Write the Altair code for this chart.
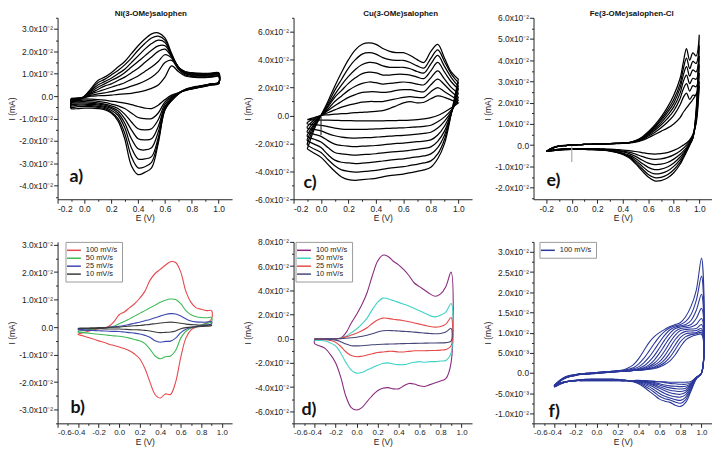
import altair as alt
import pandas as pd

# ---------------- Panel a : Ni(3-OMe)salophen, successive cycles (I in 1e-3 mA) ----------------
E_A = [-0.1, -0.05, 0.0, 0.05, 0.1, 0.15, 0.2, 0.25, 0.3, 0.35, 0.4, 0.45, 0.5, 0.55, 0.6, 0.65, 0.7, 0.75, 0.8, 0.85, 0.9, 0.95, 1.0]
A_FWD = [
    [-1, -0.8, -0.5, 0, 0.2, 0.3, 0.5, 0.8, 1, 1.3, 1.8, 2.5, 3.5, 5, 8.5, 13.5, 11, 9, 8.5, 8.3, 8.3, 8.5, 8.8],
    [-1.3, -1, -0.5, 0.5, 1, 1.5, 2, 2.8, 3.5, 4.5, 5.5, 6.8, 8.5, 11, 15, 16, 12, 9.5, 8.8, 8.6, 8.6, 8.8, 9],
    [-1.6, -1.2, -0.4, 1, 2, 3, 4, 5, 6, 7.5, 9, 11, 13, 15.5, 18.5, 17, 12.5, 10, 9.2, 9, 9, 9.2, 9.4],
    [-1.9, -1.4, -0.3, 1.5, 3, 4.5, 5.5, 7, 8.5, 10.5, 12.5, 15, 17.5, 20, 21, 17.5, 13, 10.3, 9.5, 9.3, 9.3, 9.5, 9.7],
    [-2.2, -1.6, -0.2, 2, 4, 5.5, 7, 8.5, 10.5, 13, 15.5, 18, 20.5, 22.5, 22.5, 18, 13, 10.5, 9.8, 9.6, 9.6, 9.8, 10],
    [-2.5, -1.8, -0.1, 2.5, 5, 6.5, 8, 10, 12, 15, 18, 21, 23.5, 25, 24, 18, 13, 10.7, 10, 9.8, 9.8, 10, 10.2],
    [-2.8, -1.9, 0, 3, 6, 7.5, 9.5, 11.5, 14, 17, 20.5, 23.5, 26, 26.8, 25, 18.5, 13, 10.9, 10.3, 10, 10, 10.2, 10.4],
    [-3, -2, 0, 3.5, 7, 8.5, 10.5, 13, 15.5, 19, 22.5, 25.5, 27.8, 28.3, 26, 19, 13, 11, 10.5, 10.3, 10.2, 10.3, 10.5],
]
A_REV = [
    [-1.5, -1.5, -1.2, -1.3, -1.5, -1.8, -2.2, -2.6, -3.1, -3.8, -4.6, -5.3, -5.5, -4, -1.5, 0.5, 1.5, 2.5, 3.2, 3.8, 4.4, 5, 5.5],
    [-2, -2, -1.8, -2, -2.3, -2.8, -3.5, -4.3, -5.5, -7.5, -9.5, -10, -10, -7.5, -2.5, 0, 1.5, 2.6, 3.3, 3.9, 4.5, 5.1, 5.6],
    [-2.5, -2.5, -2.4, -2.6, -3, -3.5, -4.3, -5.5, -8, -11.5, -14.5, -15, -14.5, -10.5, -3.5, -0.5, 1.4, 2.7, 3.4, 4, 4.6, 5.2, 5.7],
    [-3, -3, -3, -3.2, -3.5, -4, -5, -6.5, -10, -15, -19, -19.5, -19, -13.5, -4.5, -1, 1.3, 2.8, 3.5, 4.1, 4.7, 5.3, 5.8],
    [-3.6, -3.5, -3.5, -3.7, -4, -4.5, -5.5, -7.5, -12, -19, -23.5, -24, -23, -16, -5, -1.3, 1.2, 2.9, 3.6, 4.2, 4.8, 5.4, 5.9],
    [-4.2, -4, -4, -4.2, -4.5, -5, -6.3, -8.5, -14, -23, -28, -28, -27, -18.5, -5.5, -1.6, 1.1, 2.9, 3.7, 4.3, 4.9, 5.5, 6],
    [-4.8, -4.7, -4.6, -4.7, -5, -5.5, -7, -10, -16.5, -27, -32, -31.5, -29.5, -20, -6, -1.8, 1, 3, 3.8, 4.4, 5, 5.6, 6],
    [-5.5, -5.5, -5.3, -5.3, -5.5, -6, -7.5, -11, -19, -31, -35, -34, -32, -21, -6, -2, 1, 3, 4, 4.5, 5, 5.5, 6],
]

# ---------------- Panel c : Cu(3-OMe)salophen, successive cycles ----------------
E_C = [-0.1, -0.05, 0.0, 0.05, 0.1, 0.15, 0.2, 0.25, 0.3, 0.35, 0.4, 0.45, 0.5, 0.55, 0.6, 0.65, 0.7, 0.75, 0.8, 0.85, 0.9, 0.95, 1.0]
C_FWD = [
    [-3, -1.5, 0, 0.5, 1, 1.3, 1.6, 2, 2.3, 2.6, 3, 3.5, 5, 7, 9, 10, 9, 9.5, 12, 14, 13, 11, 9],
    [-5, -2, 0, 2, 4, 6, 7.5, 8.5, 9.5, 10, 10, 10, 11, 12, 13, 13.5, 13, 13, 17, 20, 17, 14, 11],
    [-8, -3, 0, 3.5, 7, 10, 13, 15, 16.5, 17, 17, 16.5, 17, 18, 18.5, 18.5, 17.5, 17, 22, 26, 22, 17, 13],
    [-11, -4.5, 0, 4.5, 10, 14, 18, 21, 23, 24, 23.5, 22.5, 23, 23.5, 24, 23.5, 22.5, 22, 27, 32, 26, 20, 16],
    [-14, -6, 0, 6, 13, 18, 23, 27, 30, 31, 30.5, 29, 29, 29.5, 29.5, 29, 27.5, 26.5, 32, 38, 31, 24, 19],
    [-17, -7, 0, 7, 15, 22, 28, 33, 36.5, 38, 37.5, 35.5, 34.5, 34.5, 34.5, 33.5, 31.5, 30.5, 37, 43, 35, 27, 21],
    [-20, -8.5, 0, 8.5, 18, 26, 34, 40, 44, 45, 44, 41.5, 40, 39.5, 39.5, 38, 35.5, 34, 41, 47, 38.5, 29.5, 23.5],
    [-24, -10, 0, 10, 21, 31, 40, 47, 51, 52, 51, 48, 46, 45, 45, 43, 40, 38, 46, 51, 41, 31, 26],
]
C_REV = [
    [-3, -3.2, -3.3, -3.4, -3.5, -3.6, -3.7, -3.8, -3.8, -3.8, -3.8, -3.8, -3.7, -3.6, -3.5, -3.3, -3, -2.5, -1.5, 0, 2.5, 5.5, 9],
    [-6, -6.5, -7, -8, -9, -9.7, -10, -10, -10, -9.8, -9.6, -9.4, -9.2, -9, -8.8, -8.5, -8.2, -7.8, -7, -4.5, -1, 4, 11],
    [-9, -10, -11, -13, -14.5, -15.5, -16, -16.2, -16, -15.8, -15.5, -15.2, -14.8, -14.5, -14.2, -13.8, -13.3, -12.8, -12, -9, -4, 3, 13],
    [-12, -13.5, -15, -18, -20.5, -21.5, -22, -22.3, -22, -21.8, -21.5, -21, -20.5, -20, -19.8, -19.3, -18.8, -18.3, -17.5, -14, -7.5, 2.5, 16],
    [-15, -17, -19, -23, -26.5, -27.5, -28, -28.4, -28, -27.8, -27.4, -26.8, -26.2, -25.8, -25.5, -24.9, -24.3, -23.6, -22.5, -18.5, -11, 2, 19],
    [-18, -20.5, -23, -28, -32, -33.5, -34, -34.5, -34.2, -33.8, -33.3, -32.6, -32, -31.5, -31, -30.3, -29.6, -29, -27.5, -23, -14, 2, 21],
    [-21, -24, -26.5, -31.5, -36, -39, -40, -40.5, -40.2, -39.8, -39.3, -38.5, -37.7, -37.2, -36.7, -35.8, -35, -34, -32.5, -27.5, -17, 2, 23.5],
    [-24, -27, -30, -35, -40, -44, -46, -46.5, -46, -45.5, -45, -44, -43, -42.5, -42, -41, -40, -39, -37, -31, -20, 2, 26],
]
C_SPIKE_E = [0.0, 0.0]
C_SPIKE_I = [-1.0, -14.0]

# ---------------- Panel e : Fe(3-OMe)salophen-Cl, successive cycles ----------------
E_E = [-0.2, -0.15, -0.1, -0.05, 0.0, 0.05, 0.1, 0.15, 0.2, 0.25, 0.3, 0.35, 0.4, 0.45,
       0.5, 0.55, 0.6, 0.65, 0.7, 0.75, 0.8, 0.85, 0.875, 0.9, 0.925, 0.95, 0.975, 1.0]
E_FWD = [
    [-3, -1.2, -0.4, -0.1, 0.1, 0.2, 0.3, 0.4, 0.5, 0.5, 0.6, 0.7, 0.8, 1.0, 1.4, 2.2, 3.5, 5, 6.5, 8, 10, 13, 15.5, 17.5, 19.5, 21.5, 24, 28],
    [-3, -1.3, -0.5, -0.1, 0.1, 0.2, 0.3, 0.4, 0.5, 0.6, 0.7, 0.8, 0.9, 1.1, 1.6, 2.6, 4.2, 6, 8.2, 10.8, 14, 19, 22.5, 24.5, 21.5, 23.5, 23.5, 30],
    [-3, -1.4, -0.5, -0.2, 0.1, 0.2, 0.3, 0.4, 0.5, 0.6, 0.7, 0.8, 0.9, 1.2, 1.7, 2.9, 4.7, 6.9, 9.5, 12.5, 16.2, 22, 26.5, 29, 25.5, 28, 27.5, 34],
    [-3, -1.4, -0.5, -0.2, 0.1, 0.2, 0.3, 0.4, 0.5, 0.6, 0.7, 0.8, 0.9, 1.2, 1.8, 3.1, 5.1, 7.6, 10.5, 14, 18, 24.5, 30, 33, 29, 31.5, 31, 38],
    [-3, -1.4, -0.5, -0.2, 0.1, 0.2, 0.3, 0.4, 0.5, 0.6, 0.7, 0.8, 0.9, 1.2, 1.9, 3.3, 5.5, 8.2, 11.5, 15.3, 19.8, 27, 33, 37, 32.5, 35.5, 34.5, 42],
    [-3, -1.4, -0.5, -0.2, 0.1, 0.2, 0.3, 0.4, 0.5, 0.6, 0.7, 0.8, 0.9, 1.2, 2, 3.5, 5.9, 8.8, 12.3, 16.5, 21.5, 29, 36, 41, 36, 39.5, 38.5, 47],
    [-3, -1.4, -0.5, -0.2, 0.1, 0.2, 0.3, 0.4, 0.5, 0.6, 0.7, 0.8, 0.9, 1.2, 2.1, 3.7, 6.3, 9.4, 13.2, 17.8, 23.5, 31.5, 39, 45.5, 40, 43.5, 42, 52],
]
E_REV = [
    [-3, -2.3, -1.9, -1.7, -1.6, -1.6, -1.6, -1.6, -1.7, -1.8, -1.9, -2.1, -2.3, -2.6, -3, -3.5, -4, -4.2, -4, -3.5, -2.5, -1, 0, 1, 2.5, 5, 10, 28],
    [-3, -2.4, -2, -1.8, -1.7, -1.7, -1.7, -1.7, -1.8, -1.9, -2.1, -2.4, -2.8, -3.3, -4.2, -5.3, -6.2, -6.7, -6.5, -5.8, -4.6, -2.8, -1.5, 0, 1.8, 4.5, 11, 30],
    [-3, -2.5, -2.1, -1.9, -1.8, -1.8, -1.8, -1.8, -1.9, -2, -2.3, -2.7, -3.2, -4, -5.3, -7, -8.5, -9.2, -9, -8.2, -6.6, -4.3, -2.8, -1, 1.2, 4, 12, 34],
    [-3, -2.5, -2.1, -1.9, -1.9, -1.9, -1.9, -1.9, -2, -2.2, -2.5, -3, -3.7, -4.7, -6.3, -8.5, -10.5, -11.5, -11.3, -10.3, -8.4, -5.6, -3.8, -1.8, 0.8, 3.8, 13, 38],
    [-3, -2.6, -2.2, -2, -2, -2, -2, -2, -2.1, -2.3, -2.6, -3.2, -4, -5.2, -7.2, -9.8, -12.3, -13.5, -13.3, -12.2, -10, -6.8, -4.6, -2.3, 0.5, 3.6, 14, 42],
    [-3, -2.6, -2.2, -2.1, -2, -2, -2, -2.1, -2.2, -2.4, -2.7, -3.3, -4.2, -5.6, -8, -11, -13.8, -15.3, -15.2, -14, -11.6, -8, -5.5, -2.8, 0.2, 3.4, 15, 47],
    [-3, -2.6, -2.3, -2.1, -2, -2, -2, -2.1, -2.2, -2.4, -2.8, -3.4, -4.4, -6, -8.7, -12, -15, -16.8, -16.7, -15.5, -13, -9, -6.2, -3.2, 0, 3.2, 16, 52],
]
E_SPIKE_E = [0.0, 0.0]
E_SPIKE_I = [-0.5, -8.0]

# ---------------- Panel f : Fe complex, 100 mV/s successive cycles ----------------
E_F = [-0.4, -0.35, -0.3, -0.25, -0.2, -0.15, -0.1, -0.05, 0.0, 0.05, 0.1, 0.15, 0.2, 0.25,
       0.3, 0.35, 0.4, 0.45, 0.5, 0.55, 0.6, 0.65, 0.7, 0.75, 0.8, 0.85, 0.9, 0.95, 1.0]
F_FWD = [
    [-3, -1.8, -1, -0.6, -0.4, -0.2, -0.1, 0, 0.1, 0.2, 0.3, 0.4, 0.5, 0.7, 1.2, 2, 3.5, 5.5, 7.5, 9, 10, 10.8, 11.5, 12, 12.5, 14, 16.5, 20.5, 28.5],
    [-3, -1.9, -1.1, -0.7, -0.4, -0.2, -0.1, 0, 0.1, 0.2, 0.3, 0.4, 0.5, 0.6, 0.9, 1.3, 2.2, 3.6, 5.4, 7.3, 9, 10.3, 11.2, 11.7, 12, 12.8, 14.5, 18, 24],
    [-3.1, -1.9, -1.1, -0.7, -0.5, -0.3, -0.1, 0, 0.1, 0.2, 0.3, 0.4, 0.5, 0.6, 0.7, 1, 1.5, 2.5, 3.9, 5.7, 7.6, 9.4, 10.7, 11.4, 11.7, 12, 13, 15.5, 19.5],
    [-3.1, -2, -1.2, -0.8, -0.5, -0.3, -0.2, -0.1, 0, 0.1, 0.2, 0.3, 0.4, 0.5, 0.6, 0.8, 1.1, 1.7, 2.8, 4.3, 6.2, 8.2, 9.9, 11, 11.4, 11.6, 12, 13.5, 16],
    [-3.2, -2, -1.2, -0.8, -0.5, -0.3, -0.2, -0.1, 0, 0.1, 0.2, 0.3, 0.4, 0.5, 0.5, 0.7, 0.9, 1.3, 2, 3.2, 4.9, 6.9, 8.8, 10.3, 11, 11.2, 11.4, 12, 13.5],
    [-3.2, -2, -1.2, -0.8, -0.5, -0.3, -0.2, -0.1, 0, 0.1, 0.2, 0.3, 0.4, 0.5, 0.5, 0.6, 0.8, 1.1, 1.6, 2.4, 3.7, 5.5, 7.6, 9.4, 10.5, 10.8, 10.9, 11, 12],
    [-3.2, -2, -1.2, -0.8, -0.5, -0.3, -0.2, -0.1, 0, 0.1, 0.2, 0.3, 0.4, 0.5, 0.5, 0.6, 0.7, 0.9, 1.3, 1.9, 2.8, 4.3, 6.3, 8.3, 9.7, 10.3, 10.4, 10.5, 11],
    [-3.3, -2.1, -1.3, -0.9, -0.6, -0.4, -0.3, -0.2, -0.1, 0, 0.1, 0.2, 0.3, 0.4, 0.5, 0.6, 0.7, 0.8, 1.1, 1.5, 2.2, 3.3, 5, 7, 8.8, 9.7, 9.9, 10, 10.5],
    [-3.3, -2.1, -1.3, -0.9, -0.6, -0.4, -0.3, -0.2, -0.1, 0, 0.1, 0.2, 0.3, 0.4, 0.5, 0.6, 0.7, 0.8, 1, 1.3, 1.8, 2.6, 3.9, 5.8, 7.8, 9, 9.5, 9.7, 10],
    [-3.3, -2.1, -1.3, -0.9, -0.6, -0.4, -0.3, -0.2, -0.1, 0, 0.1, 0.2, 0.3, 0.4, 0.5, 0.6, 0.7, 0.8, 0.9, 1.1, 1.5, 2.1, 3, 4.5, 6.5, 8.2, 9, 9.4, 9.6],
]
F_REV = [
    [-3.5, -2.8, -2.3, -2, -1.8, -1.7, -1.6, -1.5, -1.5, -1.5, -1.5, -1.5, -1.6, -1.7, -1.9, -2.2, -2.7, -3.5, -4.5, -5.5, -6.5, -7, -7.3, -8, -8.3, -7.3, -4.5, -1.5, 0],
    [-3.4, -2.8, -2.3, -2, -1.8, -1.7, -1.6, -1.6, -1.6, -1.6, -1.6, -1.6, -1.7, -1.8, -1.9, -2.1, -2.5, -3.1, -3.9, -4.8, -5.8, -6.4, -6.7, -7.2, -7.5, -6.6, -4.1, -1.4, 0],
    [-3.4, -2.7, -2.3, -2, -1.9, -1.8, -1.7, -1.7, -1.7, -1.7, -1.7, -1.7, -1.7, -1.8, -1.9, -2.1, -2.3, -2.8, -3.4, -4.2, -5.1, -5.8, -6.2, -6.6, -6.8, -6, -3.8, -1.4, 0],
    [-3.3, -2.7, -2.3, -2, -1.9, -1.8, -1.7, -1.7, -1.7, -1.7, -1.7, -1.7, -1.8, -1.8, -1.9, -2, -2.2, -2.5, -3, -3.6, -4.4, -5.1, -5.6, -5.9, -6, -5.4, -3.5, -1.3, 0],
    [-3.3, -2.7, -2.3, -2, -1.9, -1.8, -1.7, -1.7, -1.7, -1.7, -1.7, -1.7, -1.8, -1.8, -1.9, -2, -2.1, -2.3, -2.7, -3.2, -3.8, -4.4, -4.9, -5.2, -5.3, -4.8, -3.2, -1.3, 0],
    [-3.2, -2.6, -2.2, -2, -1.9, -1.8, -1.8, -1.8, -1.8, -1.8, -1.8, -1.8, -1.8, -1.9, -1.9, -2, -2, -2.2, -2.5, -2.9, -3.4, -3.9, -4.3, -4.5, -4.6, -4.3, -3, -1.2, 0],
    [-3.2, -2.6, -2.2, -2, -1.9, -1.8, -1.8, -1.8, -1.8, -1.8, -1.8, -1.8, -1.8, -1.9, -1.9, -2, -2, -2.1, -2.3, -2.6, -3, -3.4, -3.7, -3.9, -4, -3.8, -2.8, -1.2, 0],
    [-3.1, -2.6, -2.2, -2, -1.9, -1.9, -1.8, -1.8, -1.8, -1.8, -1.8, -1.8, -1.8, -1.9, -1.9, -1.9, -1.9, -2, -2.2, -2.4, -2.7, -3, -3.2, -3.3, -3.4, -3.3, -2.6, -1.1, 0],
    [-3.1, -2.5, -2.2, -2, -1.9, -1.9, -1.9, -1.9, -1.9, -1.9, -1.9, -1.9, -1.9, -1.9, -1.9, -1.9, -1.9, -1.9, -2, -2.1, -2.2, -2.4, -2.6, -2.7, -2.8, -2.8, -2.4, -1.1, 0],
    [-3, -2.5, -2.2, -2, -1.9, -1.9, -1.9, -1.9, -1.9, -1.9, -1.9, -1.9, -1.9, -1.9, -1.9, -1.9, -1.8, -1.9, -2, -2.1, -2.2, -2.2, -2.3, -2.3, -2.3, -2.3, -2.1, -1.1, 0],
]

# ---------------- Panels b and d : scan-rate series ----------------
E_BD = [-0.4, -0.35, -0.3, -0.25, -0.2, -0.15, -0.1, -0.05, 0.0, 0.05, 0.1, 0.15, 0.2, 0.25,
        0.3, 0.35, 0.4, 0.45, 0.5, 0.55, 0.6, 0.65, 0.7, 0.75, 0.8, 0.85, 0.9]
RATES = ["100 mV/s", "50 mV/s", "25 mV/s", "10 mV/s"]

B_FWD = [
    [-2.5, -2, -1.5, -1, -0.6, -0.3, 0.3, 2, 4.5, 5.5, 7, 8.5, 10.5, 13, 17, 19.5, 21, 22.5, 23.8, 23.5, 20, 13, 9, 7, 6.5, 6, 6],
    [-1.5, -1.3, -1, -0.7, -0.5, -0.3, -0.1, 0.3, 1.2, 2, 3, 4, 5, 6, 7, 8, 9, 9.8, 10.2, 10, 8.5, 6, 4.5, 3.8, 3.5, 3.4, 3.5],
    [-0.8, -0.7, -0.6, -0.5, -0.4, -0.3, -0.1, 0.1, 0.3, 0.6, 1, 1.4, 1.8, 2.3, 2.8, 3.4, 4, 4.6, 4.9, 4.8, 4, 3, 2.2, 1.9, 1.8, 1.8, 2],
    [-0.4, -0.35, -0.3, -0.25, -0.2, -0.15, -0.1, -0.05, 0, 0.2, 0.35, 0.5, 0.6, 0.8, 1, 1.25, 1.5, 1.7, 1.8, 1.7, 1.4, 1.1, 0.9, 0.8, 0.7, 0.7, 0.8],
]
B_REV = [
    [-2.7, -3.2, -3.8, -4.3, -5, -5.5, -6.2, -6.7, -7.2, -7.8, -8.6, -9.8, -11.5, -15, -20, -24.5, -25.8, -24.3, -24.5, -20, -11, -4, -1, 0, 0.8, 1.5, 3],
    [-1.8, -2, -2.2, -2.4, -2.6, -2.8, -3, -3.2, -3.3, -3.6, -4, -4.5, -5, -6, -8, -10.5, -11.5, -10.8, -10.5, -8.5, -4, -1.5, -0.3, 0.3, 0.8, 1.3, 2],
    [-1, -1.1, -1.2, -1.25, -1.3, -1.4, -1.5, -1.55, -1.6, -1.8, -2, -2.2, -2.5, -3, -3.7, -5, -5.5, -5.2, -5.1, -4, -2, -0.8, -0.2, 0.2, 0.5, 0.8, 1.2],
    [-0.5, -0.52, -0.55, -0.58, -0.6, -0.63, -0.66, -0.68, -0.7, -0.8, -0.9, -0.95, -1, -1.2, -1.4, -1.8, -2, -1.9, -1.8, -1.4, -0.6, -0.2, 0, 0.1, 0.2, 0.3, 0.5],
]
B_COLORS = ["#e5484d", "#3fba55", "#3e47ad", "#3a3a3a"]

D_FWD = [
    [-0.5, -0.4, -0.3, -0.25, -0.2, 0.5, 5, 13, 20, 28, 38, 52, 64, 69, 68, 64, 61, 57, 52, 46, 43, 40, 37, 35, 37, 43, 55],
    [-0.3, -0.25, -0.2, -0.15, -0.1, 0.3, 2, 5, 8, 12, 17, 24, 30, 33.5, 33, 31.5, 30, 28.5, 27, 25, 23, 21, 19, 18, 19.5, 22, 29],
    [-0.2, -0.15, -0.1, -0.05, 0, 0.3, 1.5, 3, 4.5, 6.5, 9, 12.5, 15.5, 17, 16.8, 16, 15.5, 14.8, 14, 13, 12, 11, 10, 9.5, 10, 12, 17.5],
    [-0.2, -0.18, -0.15, -0.12, -0.1, 0, 0.3, 0.7, 1.2, 2, 2.8, 4, 5.5, 6.5, 6.8, 6.6, 6.3, 6, 5.8, 5.4, 5, 4.6, 4.3, 4, 4.3, 5.5, 8.5],
]
D_REV = [
    [-4, -6, -8, -13, -20, -32, -48, -57, -59, -57, -52, -47, -43, -41, -40.5, -41.5, -41.5, -39, -37, -37.5, -39, -39.5, -38, -36.5, -35, -33, -20],
    [-1.2, -1.5, -2, -3.5, -6, -12, -20, -26, -28.5, -28, -26, -24, -22, -20.5, -20, -21, -21.5, -21.5, -20.5, -19.5, -19, -19.5, -19, -19, -18.5, -18, -12],
    [-0.5, -0.6, -0.8, -1.5, -3, -6.5, -11, -14, -15, -14.5, -13.5, -12.5, -11.5, -11, -10.5, -10.5, -11, -11, -10.5, -10, -10, -10, -9.8, -9.8, -9.5, -9, -6],
    [-0.3, -0.35, -0.5, -0.8, -1.2, -2.5, -4.5, -5.8, -6, -5.8, -5.5, -5.1, -4.8, -4.6, -4.5, -4.4, -4.2, -4.1, -4, -3.9, -3.8, -3.7, -3.6, -3.6, -3.5, -3.3, -2],
]
D_COLORS = ["#8a2b7e", "#3fd3c6", "#e64a4a", "#45457a"]

F_RATE = ["100 mV/s"]
F_COLOR = ["#2b389a"]

PANEL_TITLES = ["Ni(3-OMe)salophen", "Cu(3-OMe)salophen", "Fe(3-OMe)salophen-Cl"]
PANEL_LABELS = ["a)", "b)", "c)", "d)", "e)", "f)"]

# axis tick values (majors + minors)
X_TICKS_TOP = [-0.2, -0.1, 0.0, 0.1, 0.2, 0.3, 0.4, 0.5, 0.6, 0.7, 0.8, 0.9, 1.0]
X_TICKS_BOT = [-0.6, -0.5, -0.4, -0.3, -0.2, -0.1, 0.0, 0.1, 0.2, 0.3, 0.4, 0.5, 0.6, 0.7, 0.8, 0.9, 1.0]
Y_TICKS_A = [-0.045, -0.04, -0.035, -0.03, -0.025, -0.02, -0.015, -0.01, -0.005, 0.0, 0.005, 0.01, 0.015, 0.02, 0.025, 0.03, 0.035]
Y_TICKS_C = [-0.06, -0.05, -0.04, -0.03, -0.02, -0.01, 0.0, 0.01, 0.02, 0.03, 0.04, 0.05, 0.06, 0.07]
Y_TICKS_E = [-0.025, -0.02, -0.015, -0.01, -0.005, 0.0, 0.005, 0.01, 0.015, 0.02, 0.025, 0.03, 0.035, 0.04, 0.045, 0.05, 0.055, 0.06]
Y_TICKS_B = [-0.035, -0.03, -0.025, -0.02, -0.015, -0.01, -0.005, 0.0, 0.005, 0.01, 0.015, 0.02, 0.025, 0.03]
Y_TICKS_D = [-0.07, -0.06, -0.05, -0.04, -0.03, -0.02, -0.01, 0.0, 0.01, 0.02, 0.03, 0.04, 0.05, 0.06, 0.07, 0.08]
Y_TICKS_F = [-0.0125, -0.01, -0.0075, -0.005, -0.0025, 0.0, 0.0025, 0.005, 0.0075, 0.01, 0.0125, 0.015, 0.0175, 0.02, 0.0225, 0.025, 0.0275, 0.03, 0.0325]


# ---------------- helpers ----------------
def loops(E, fwd, rev, series=None):
    rows = []
    for k, (f, r) in enumerate(zip(fwd, rev)):
        pts = list(zip(E, f)) + list(zip(E[::-1], r[::-1])) + [(E[0], f[0])]
        s = series[k] if series else "cycle"
        for j, (e, i) in enumerate(pts):
            rows.append({"E": e, "I": i / 1000.0, "cyc": f"c{k}", "ord": j, "s": s})
    return pd.DataFrame(rows)


def spike(E, I):
    return pd.DataFrame({"E": E, "I": [v / 1000.0 for v in I], "ord": list(range(len(E)))})


def major_test(step):
    m = round(1 / step)
    return f"abs(datum.value*{m} - round(datum.value*{m})) < 0.01"


def fmt(mult, exp):
    return f"replace(format(datum.value*{mult}, '.1f'), '\u2212', '-') + 'x10{exp}'"


def yaxis(values, step, kind):
    t = major_test(step)
    if kind == "f":
        lab = (f"{t} ? (abs(datum.value) < 1e-9 ? '0.0' : (abs(datum.value) < 0.0099 ? "
               f"{fmt(1000, '\u207b\u00b3')} : {fmt(100, '\u207b\u00b2')})) : ''")
    else:
        lab = f"{t} ? (abs(datum.value) < 1e-9 ? '0.0' : {fmt(100, '\u207b\u00b2')}) : ''"
    return alt.Axis(values=values, title="I (mA)", labelExpr=lab, labelOverlap=False,
                    tickSize={"condition": {"test": t, "value": 4}, "value": 2},
                    titleX=-41, grid=False)


def xaxis(values, size=8.5):
    t = major_test(0.2)
    lab = f"{t} ? replace(format(datum.value, '.1f'), '\u2212', '-') : ''"
    return alt.Axis(values=values, title="E (V)", labelExpr=lab, labelOverlap=False, labelFontSize=size,
                    tickSize={"condition": {"test": t, "value": 4}, "value": 2},
                    titlePadding=1, grid=False)


def text_layer(txt, x, y, size, font, align="left"):
    return alt.Chart(pd.DataFrame({"t": [txt]})).mark_text(
        align=align, baseline="alphabetic", font=font, fontSize=size, fontWeight="bold", color="#111"
    ).encode(x=alt.value(x), y=alt.value(y), text="t:N")


def label_layer(txt, x, y):
    return text_layer(txt, x, y, 18, "Lato")


def title_layer(txt, w, dx):
    return text_layer(txt, w / 2 + dx, -2, 8, "Liberation Sans", align="center")


def xy(xdom, ydom, xv, yv, ystep, kind, xsize=8.5):
    return (alt.X("E:Q", scale=alt.Scale(domain=xdom, nice=False, zero=False), axis=xaxis(xv, xsize)),
            alt.Y("I:Q", scale=alt.Scale(domain=ydom, nice=False, zero=False), axis=yaxis(yv, ystep, kind)))


def mono_panel(df, xdom, ydom, xv, yv, ystep, color, extra=None, kind=""):
    x, y = xy(xdom, ydom, xv, yv, ystep, kind)
    lines = alt.Chart(df).mark_line(interpolate="catmull-rom", strokeWidth=1.25, clip=True).encode(
        x=x, y=y, detail="cyc:N", order="ord:Q", color=alt.value(color))
    layers = [lines]
    if extra is not None:
        sdf, scol = extra
        layers.append(alt.Chart(sdf).mark_line(strokeWidth=1.2, clip=True).encode(
            x=x, y=y, order="ord:Q", color=alt.value(scol)))
    return layers


def legend_panel(df, xdom, ydom, xv, yv, ystep, domain, colors, lx, kind=""):
    x, y = xy(xdom, ydom, xv, yv, ystep, kind, xsize=8)
    leg = alt.Legend(title=None, orient="none", legendX=lx, legendY=0, strokeColor="#9a9a9a",
                     fillColor="white", padding=4, labelFontSize=7.5, labelFont="Liberation Sans",
                     labelColor="#222", symbolType="M-2,0H2", symbolStrokeWidth=1.5, symbolSize=49,
                     rowPadding=0, labelOffset=7.5)
    lines = alt.Chart(df).mark_line(interpolate="catmull-rom", strokeWidth=1.1, clip=True).encode(
        x=x, y=y, detail="cyc:N", order="ord:Q",
        color=alt.Color("s:N", scale=alt.Scale(domain=domain, range=colors), legend=leg))
    return [lines]


W1, W2, W3, H = 176, 180, 180, 183

df_a = loops(E_A, A_FWD, A_REV)
df_c = loops(E_C, C_FWD, C_REV)
df_e = loops(E_E, E_FWD, E_REV)
df_f = loops(E_F, F_FWD, F_REV, series=F_RATE * len(F_FWD))
df_b = loops(E_BD, B_FWD, B_REV, series=RATES)
df_d = loops(E_BD, D_FWD, D_REV, series=RATES)

pa = alt.layer(*mono_panel(df_a, [-0.2, 1.1], [-0.046, 0.035], X_TICKS_TOP, Y_TICKS_A, 0.01, "#000"),
               label_layer(PANEL_LABELS[0], 12, 166), title_layer(PANEL_TITLES[0], W1, 6)
               ).properties(width=W1, height=H)
pc = alt.layer(*mono_panel(df_c, [-0.2, 1.1], [-0.06, 0.07], X_TICKS_TOP, Y_TICKS_C, 0.02, "#000",
                           extra=(spike(C_SPIKE_E, C_SPIKE_I), "#333")),
               label_layer(PANEL_LABELS[2], 10, 172), title_layer(PANEL_TITLES[1], W2, 18)
               ).properties(width=W2, height=H)
pe = alt.layer(*mono_panel(df_e, [-0.3, 1.1], [-0.0255, 0.06], X_TICKS_TOP, Y_TICKS_E, 0.01, "#000",
                           extra=(spike(E_SPIKE_E, E_SPIKE_I), "#aaa")),
               label_layer(PANEL_LABELS[4], 13, 170), title_layer(PANEL_TITLES[2], W3, 9)
               ).properties(width=W3, height=H)
pb = alt.layer(*legend_panel(df_b, [-0.6, 1.1], [-0.035, 0.031], X_TICKS_BOT, Y_TICKS_B, 0.01,
                             RATES, B_COLORS, 8),
               label_layer(PANEL_LABELS[1], 13, 173)).properties(width=W1, height=H)
pd_ = alt.layer(*legend_panel(df_d, [-0.6, 1.1], [-0.07, 0.08], X_TICKS_BOT, Y_TICKS_D, 0.02,
                              RATES, D_COLORS, 2),
                label_layer(PANEL_LABELS[3], 8, 175)).properties(width=W2, height=H)
pf = alt.layer(*legend_panel(df_f, [-0.6, 1.1], [-0.0125, 0.0325], X_TICKS_BOT, Y_TICKS_F, 0.005,
                             F_RATE, F_COLOR, 6, kind="f"),
               label_layer(PANEL_LABELS[5], 15, 177)).properties(width=W3, height=H)

chart = alt.concat(pa, pc, pe, pb, pd_, pf, columns=3, spacing={"row": 43, "column": 62}, bounds="flush").resolve_scale(
    color="independent").properties(
    padding={"left": 0, "top": 0, "right": 0, "bottom": 0}
).configure_view(stroke=None).configure_axis(
    labelFont="Liberation Sans", labelFontSize=8.5, labelColor="#222", labelPadding=1,
    titleFont="Liberation Sans", titleFontSize=8.5, titleFontWeight="normal", titleColor="#222",
    domainColor="#222", tickColor="#222", domainWidth=1, tickWidth=1, grid=False
)

chart.save("out.html", embed_options={"renderer": "svg", "actions": False})
